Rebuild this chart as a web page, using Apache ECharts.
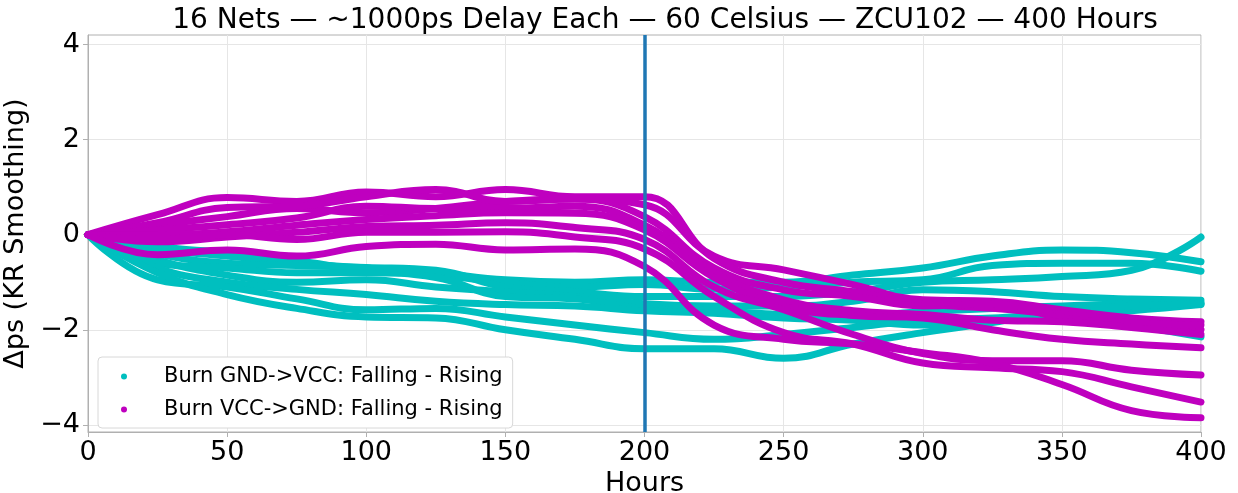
<!DOCTYPE html>
<html>
<head>
<meta charset="utf-8">
<script src="https://cdn.jsdelivr.net/npm/echarts@6/dist/echarts.min.js"></script>
<style>
  html, body { margin: 0; padding: 0; background: #fff; }
  #main { width: 1238px; height: 493px; }
</style>
</head>
<body>
<div id="main"></div>
<script>
let hours = [0, 25, 50, 75, 100, 125, 150, 175, 200, 225, 250, 275, 300, 325, 350, 375, 400];

// Burn GND->VCC nets (cyan)
let gnd1 = [0, -0.30, -0.45, -0.60, -0.70, -0.80, -0.95, -1.00, -0.95, -1.00, -1.00, -0.85, -0.70, -0.45, -0.32, -0.38, -0.57];
let gnd2 = [0, -0.25, -0.38, -0.55, -0.75, -0.85, -1.00, -1.10, -1.05, -1.15, -1.10, -1.00, -0.95, -0.65, -0.60, -0.60, -0.77];
let gnd3 = [0, -0.40, -0.60, -0.65, -0.69, -0.75, -1.10, -1.20, -1.30, -1.30, -1.30, -1.20, -1.00, -0.95, -0.88, -0.75, -0.05];
let gnd4 = [0, -0.53, -0.85, -1.00, -0.95, -1.10, -1.20, -1.30, -1.45, -1.50, -1.50, -1.40, -1.16, -1.20, -1.30, -1.35, -1.38];
let gnd5 = [0, -0.60, -0.70, -0.80, -0.80, -0.90, -1.30, -1.35, -1.55, -1.60, -1.68, -1.70, -1.62, -1.55, -1.50, -1.45, -1.43];
let gnd6 = [0, -0.70, -1.00, -1.15, -1.26, -1.40, -1.47, -1.50, -1.60, -1.65, -1.75, -1.80, -1.90, -1.80, -1.70, -1.60, -1.47];
let gnd7 = [0, -0.95, -1.10, -1.35, -1.58, -1.55, -1.73, -1.90, -2.06, -2.20, -2.10, -1.95, -1.80, -1.75, -1.68, -1.90, -2.15];
let gnd8 = [0, -0.80, -1.26, -1.55, -1.73, -1.75, -2.00, -2.20, -2.40, -2.40, -2.60, -2.30, -2.06, -1.85, -1.60, -1.50, -1.45];

// Burn VCC->GND nets (magenta)
let vcc1 = [0, 0.20, 0.38, 0.55, 0.46, 0.55, 0.70, 0.75, 0.63, -0.45, -0.74, -1.05, -1.37, -1.40, -1.58, -1.75, -1.83];
let vcc2 = [0, 0.42, 0.78, 0.70, 0.90, 0.80, 0.95, 0.80, 0.80, -0.50, -1.00, -1.20, -1.45, -1.55, -1.68, -1.80, -2.00];
let vcc3 = [0, 0.25, 0.57, 0.60, 0.80, 0.95, 0.70, 0.75, 0.38, -0.70, -1.16, -1.30, -1.50, -1.45, -1.75, -1.85, -1.90];
let vcc4 = [0, 0.10, 0.21, 0.35, 0.60, 0.55, 0.55, 0.60, 0.20, -0.80, -1.37, -1.60, -1.68, -1.80, -1.83, -1.95, -2.10];
let vcc5 = [0, 0.00, 0.06, 0.20, 0.32, 0.40, 0.46, 0.45, 0.10, -0.90, -1.50, -1.70, -1.75, -2.00, -2.20, -2.30, -2.38];
let vcc6 = [0, -0.15, -0.05, 0.05, 0.17, 0.20, 0.25, 0.15, -0.10, -1.10, -1.58, -2.10, -2.50, -2.65, -2.65, -2.85, -2.95];
let vcc7 = [0, -0.10, 0.00, -0.10, 0.05, 0.05, 0.06, -0.05, -0.30, -1.30, -2.06, -2.30, -2.70, -2.80, -2.88, -3.20, -3.52];
let vcc8 = [0, -0.42, -0.32, -0.45, -0.25, -0.20, -0.32, -0.30, -0.67, -1.90, -2.20, -2.30, -2.48, -2.70, -3.15, -3.70, -3.85];

let burnHour = 200;
let yTicks = [-4, -2, 0, 2, 4];

let nameGnd = 'Burn GND->VCC: Falling - Rising';
let nameVcc = 'Burn VCC->GND: Falling - Rising';
let cyan = '#00bfbf';
let magenta = '#bf00bf';

function pairs(vals) {
  let out = [];
  for (let i = 0; i < hours.length; i++) {
    out.push([hours[i], vals[i]]);
  }
  return out;
}

function netSeries(name, color, vals) {
  return {
    name: name,
    type: 'line',
    smooth: 0.45,
    showSymbol: false,
    symbol: 'circle',
    symbolSize: 7,
    silent: true,
    color: color,
    lineStyle: { color: color, width: 7, cap: 'round', join: 'round' },
    data: pairs(vals)
  };
}

let series = [];
[gnd1, gnd2, gnd3, gnd4, gnd5, gnd6, gnd7, gnd8].forEach(function(v) {
  series.push(netSeries(nameGnd, cyan, v));
});
[vcc1, vcc2, vcc3, vcc4, vcc5, vcc6, vcc7, vcc8].forEach(function(v) {
  series.push(netSeries(nameVcc, magenta, v));
});
// burn switch marker
series.push({
  type: 'line',
  silent: true,
  data: [],
  markLine: {
    silent: true,
    symbol: ['none', 'none'],
    label: { show: false },
    lineStyle: { color: '#1f77b4', width: 3.5, type: 'solid' },
    data: [{ xAxis: burnHour }]
  },
  z: 5
});

let myChart = echarts.init(document.getElementById('main'), null, { renderer: 'canvas' });
let font = 'DejaVu Sans';
let option = {
  animation: false,
  backgroundColor: '#fff',
  textStyle: { fontFamily: font },
  title: {
    text: '16 Nets — ~1000ps Delay Each — 60 Celsius — ZCU102 — 400 Hours',
    left: 660,
    textAlign: 'center',
    top: 2,
    textStyle: { fontFamily: font, fontSize: 28, fontWeight: 'normal', color: '#000' }
  },
  grid: {
    left: 88, right: 37, top: 35, bottom: 61,
    outerBoundsMode: 'none',
    containLabel: false,
    show: true, borderColor: '#b0b0b0', borderWidth: 1, backgroundColor: 'transparent'
  },
  legend: {
    orient: 'vertical',
    left: 98,
    top: 357,
    data: [nameGnd, nameVcc],
    icon: 'circle',
    itemWidth: 6,
    itemHeight: 6,
    itemGap: 12,
    backgroundColor: '#fff',
    borderColor: '#d8d8d8',
    borderWidth: 1,
    borderRadius: 4,
    padding: [9, 10, 8, 23],
    textStyle: { fontFamily: font, fontSize: 21, color: '#000', padding: [0, 0, 0, 32] }
  },
  xAxis: {
    type: 'value',
    min: 0,
    max: 400,
    interval: 50,
    name: 'Hours',
    nameLocation: 'middle',
    nameGap: 34,
    nameTextStyle: { fontFamily: font, fontSize: 27, color: '#000' },
    axisLine: { show: true, onZero: false, lineStyle: { color: '#b0b0b0' } },
    axisTick: { show: true, inside: false, length: 5, lineStyle: { color: '#b0b0b0' } },
    axisLabel: { fontFamily: font, fontSize: 27, color: '#000', margin: 7 },
    splitLine: { show: true, lineStyle: { color: '#e6e6e6', width: 1 } }
  },
  yAxis: {
    type: 'value',
    min: -4.15,
    max: 4.2,
    name: 'Δps (KR Smoothing)',
    nameLocation: 'middle',
    nameRotate: 90,
    nameGap: 54,
    nameTextStyle: { fontFamily: font, fontSize: 27, color: '#000' },
    axisLine: { show: true, onZero: false, lineStyle: { color: '#b0b0b0' } },
    axisTick: { show: true, length: 5, customValues: yTicks, lineStyle: { color: '#b0b0b0' } },
    axisLabel: {
      fontFamily: font, fontSize: 27, color: '#000', margin: 8,
      customValues: yTicks,
      formatter: function(v) { return v < 0 ? '\u2212' + Math.abs(v) : String(v); }
    },
    splitLine: { show: true, lineStyle: { color: '#e6e6e6', width: 1 } }
  },
  series: series
};
myChart.setOption(option);
</script>
</body>
</html>
